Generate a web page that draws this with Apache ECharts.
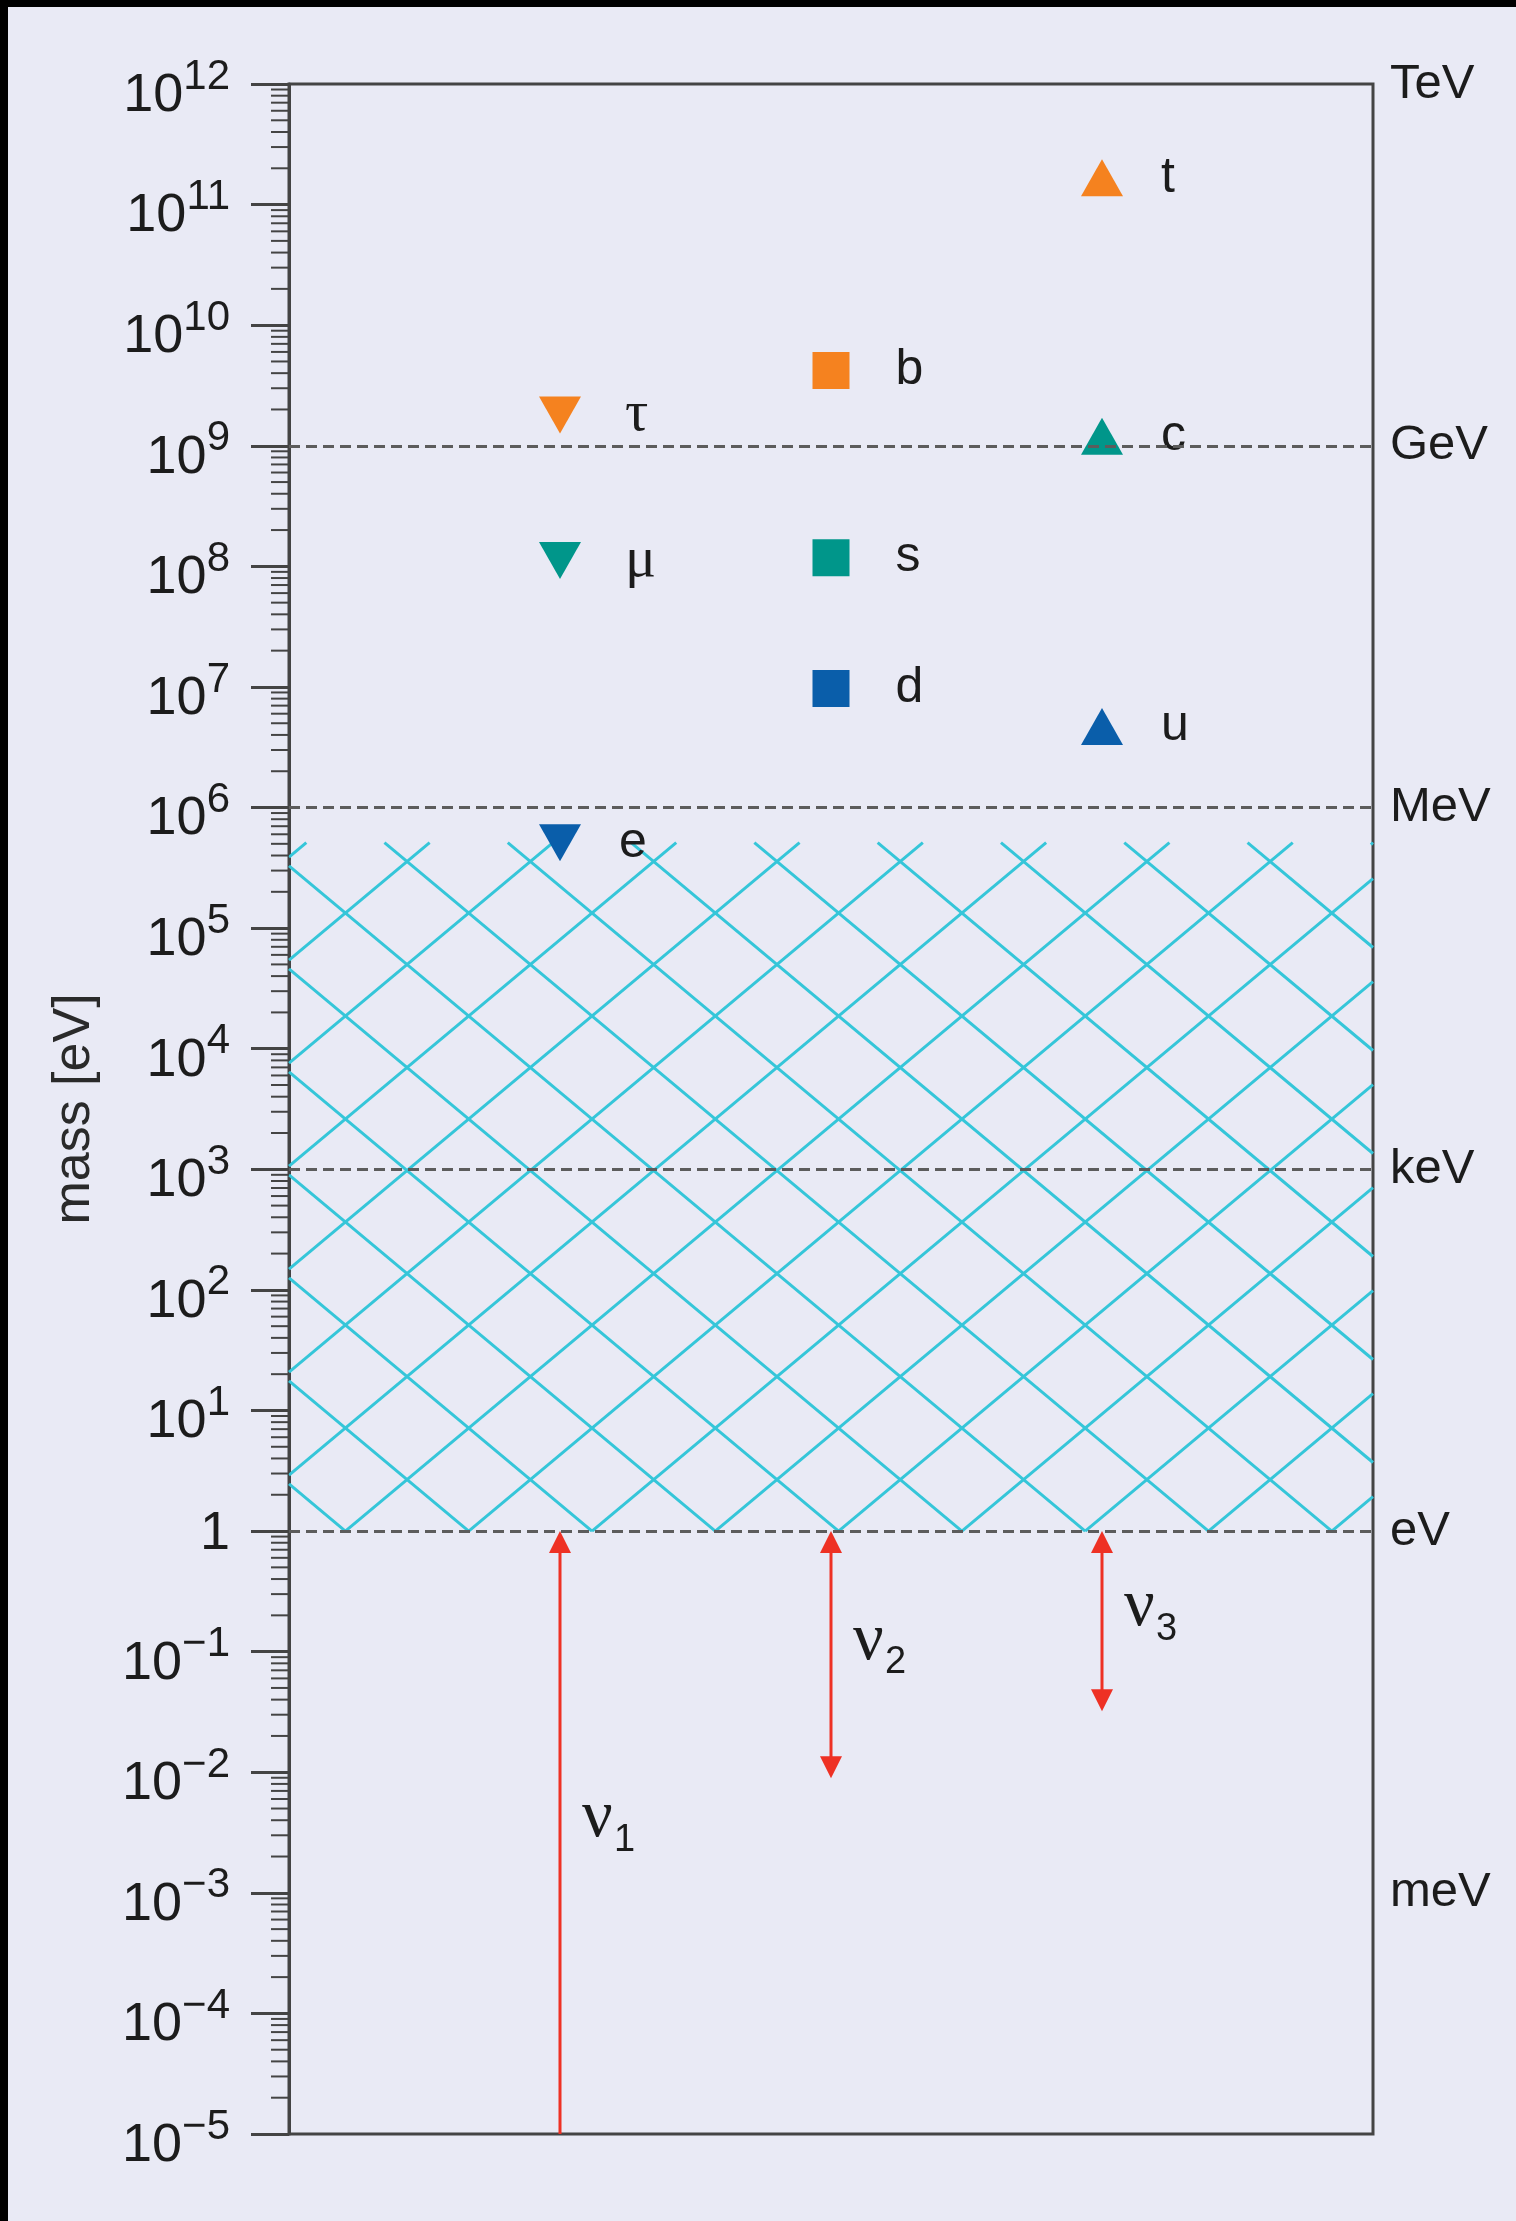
<!DOCTYPE html>
<html><head><meta charset="utf-8">
<script src="https://cdn.jsdelivr.net/npm/echarts@6/dist/echarts.min.js"></script>
<style>
html,body{margin:0;padding:0;background:#000;width:1516px;height:2221px;overflow:hidden}
#chart{position:absolute;left:8px;top:7px;width:1508px;height:2214px}
</style></head><body><div id="chart"></div>
<script>
// ---------------- data (masses in eV) ----------------
const leptonNames = ['e', 'μ', 'τ'];
const leptonMass = [5.1e5, 1.12e8, 1.8e9];
const downQuarkNames = ['d', 's', 'b'];
const downQuarkMass = [9.7e6, 1.18e8, 4.2e9];
const upQuarkNames = ['u', 'c', 't'];
const upQuarkMass = [4.7e6, 1.2e9, 1.67e11];
const neutrinoIndex = ['1', '2', '3'];
const neutrinoUpper = [1, 1, 1];
const neutrinoLower = [null, 8.9e-3, 3.2e-2];   // null: no lower bound
const scaleLines = [1e9, 1e6, 1e3, 1, 1e-3];
const unitNames = ['TeV', 'GeV', 'MeV', 'keV', 'eV', 'meV'];
const unitValues = [1e12, 1e9, 1e6, 1e3, 1, 1e-3];
const excludedRange = [1, 5.11e5];
const axisMin = 1e-5, axisMax = 1e12;

// ---------------- styles ----------------
const genColors = ['#0A5EAA', '#00968A', '#F5821F'];
const RED = '#EE3124', CYAN = '#35C6D9', FRAME = '#444', DASH = '#5c5c5c', TXT = '#1c1c1c';
const SANS = '"Liberation Sans", Arial, sans-serif';
const SERIF = '"Liberation Serif", "Times New Roman", serif';

const exp10 = v => Math.round(Math.log10(v));
const isGreek = s => /[\u0370-\u03FF]/.test(s);
const unitMap = {};
unitValues.forEach((v, i) => { unitMap[exp10(v)] = unitNames[i]; });

// minor log ticks (2..9 per decade)
const minorTicks = [];
for (let e = exp10(axisMin); e < exp10(axisMax); e++) {
  for (let m = 2; m <= 9; m++) minorTicks.push([0, m * Math.pow(10, e)]);
}

function scatterData(names, masses, col) {
  return names.map((n, i) => {
    const item = { name: n, value: [col, masses[i]], itemStyle: { color: genColors[i], opacity: 1 } };
    if (isGreek(n)) item.label = { fontFamily: SERIF, fontSize: 58, distance: 44 };
    return item;
  });
}

function clip(x1, y1, x2, y2, xl, yt, xr, yb) {
  let t0 = 0, t1 = 1; const dx = x2 - x1, dy = y2 - y1;
  const p = [-dx, dx, -dy, dy], q = [x1 - xl, xr - x1, y1 - yt, yb - y1];
  for (let i = 0; i < 4; i++) {
    if (p[i] === 0) { if (q[i] < 0) return null; }
    else {
      const r = q[i] / p[i];
      if (p[i] < 0) { if (r > t1) return null; if (r > t0) t0 = r; }
      else { if (r < t0) return null; if (r < t1) t1 = r; }
    }
  }
  return [x1 + t0 * dx, y1 + t0 * dy, x1 + t1 * dx, y1 + t1 * dy];
}

const markerLabel = (dist) => ({ show: true, position: 'right', distance: dist, formatter: '{b}',
  fontFamily: SANS, fontSize: 50, color: TXT });

const chart = echarts.init(document.getElementById('chart'), null, { renderer: 'canvas' });
chart.setOption({
  animation: false,
  backgroundColor: '#E9EAF5',
  grid: { left: 281, right: 143, top: 77, bottom: 87, show: true, borderColor: FRAME, borderWidth: 3, backgroundColor: 'transparent' },
  xAxis: { type: 'value', min: 0, max: 4, show: false },
  yAxis: [{
    type: 'log', logBase: 10, min: axisMin, max: axisMax, interval: 1,
    name: 'mass [eV]', nameLocation: 'middle', nameGap: 188, nameRotate: 90,
    nameTextStyle: { fontFamily: SANS, fontSize: 52, color: '#2a2a2a' },
    axisLine: { show: true, lineStyle: { color: FRAME, width: 3 } },
    axisTick: { show: true, length: 38, lineStyle: { color: FRAME, width: 3 } },
    minorTick: { show: false },
    splitLine: { show: false },
    axisLabel: {
      margin: 59, color: TXT, showMinLabel: true, showMaxLabel: true, interval: 0,
      padding: [24, 0, 0, 0],
      formatter: v => {
        const e = exp10(v);
        if (e === 0) return '{one|1}\n{gap| }';
        return '{b|10}{s|' + (e < 0 ? '\u2212' + (-e) : e) + '}';
      },
      rich: {
        b: { fontFamily: SANS, fontSize: 54, lineHeight: 54, color: TXT, verticalAlign: 'bottom' },
        s: { fontFamily: SANS, fontSize: 42, lineHeight: 42, color: TXT, verticalAlign: 'bottom', padding: [0, 0, 25, 0] },
        one: { fontFamily: SANS, fontSize: 54, lineHeight: 54, color: TXT },
        gap: { fontSize: 1, lineHeight: 18 }
      }
    }
  }, {
    type: 'log', logBase: 10, min: axisMin, max: axisMax, interval: 1, position: 'right',
    axisLine: { show: false }, axisTick: { show: false }, splitLine: { show: false },
    axisLabel: { margin: 17, fontFamily: SANS, fontSize: 49, color: TXT, interval: 0,
      showMinLabel: true, showMaxLabel: true,
      formatter: v => unitMap[exp10(v)] || '' }
  }],
  series: [
    { // hatched excluded region
      type: 'custom', z: 1, silent: true,
      data: [[0, excludedRange[0], excludedRange[1]]],
      encode: { x: 0, y: [1, 2] },
      renderItem: (params, api) => {
        const p0 = api.coord([0, api.value(2)]);
        const p1 = api.coord([4, api.value(1)]);
        const xl = p0[0], yt = p0[1], xr = p1[0], yb = p1[1];
        const P = 123.3, hx = P / 2, hy = 51.5, off = 56.4, n = 40;
        const kids = [];
        for (let k = -25; k <= 25; k++) {
          const xv = xl + off + k * P;
          [[xv + hx * n, yb - hy * n], [xv - hx * n, yb - hy * n]].forEach(end => {
            const c = clip(xv, yb, end[0], end[1], xl, yt, xr, yb);
            if (c) kids.push({ type: 'line', shape: { x1: c[0], y1: c[1], x2: c[2], y2: c[3] },
              style: { stroke: CYAN, lineWidth: 3 } });
          });
        }
        return { type: 'group', children: kids };
      }
    },
    { // dashed scale lines
      type: 'line', data: [], z: 2, silent: true,
      markLine: {
        silent: true, symbol: ['none', 'none'], label: { show: false },
        lineStyle: { color: DASH, width: 3, type: [11, 6] },
        data: scaleLines.map(v => ({ yAxis: v }))
      }
    },
    { type: 'scatter', name: 'leptons', z: 3, symbol: 'triangle', symbolRotate: 180, symbolSize: [42, 37],
      itemStyle: { opacity: 1 }, label: markerLabel(38), data: scatterData(leptonNames, leptonMass, 1) },
    { type: 'scatter', name: 'down quarks', z: 3, symbol: 'rect', symbolSize: [37, 37],
      itemStyle: { opacity: 1 }, label: markerLabel(46), data: scatterData(downQuarkNames, downQuarkMass, 2) },
    { type: 'scatter', name: 'up quarks', z: 3, symbol: 'triangle', symbolSize: [42, 37],
      itemStyle: { opacity: 1 }, label: markerLabel(38), data: scatterData(upQuarkNames, upQuarkMass, 3) },
    { // neutrino mass ranges
      type: 'custom', z: 4, silent: true, clip: false,
      data: neutrinoIndex.map((s, i) => [i + 1, neutrinoLower[i] == null ? axisMin : neutrinoLower[i], neutrinoUpper[i], neutrinoLower[i] == null ? 0 : 1]),
      encode: { x: 0, y: [1, 2] },
      renderItem: (params, api) => {
        const top = api.coord([api.value(0), api.value(2)]);
        const bot = api.coord([api.value(0), api.value(1)]);
        const both = api.value(3) === 1;
        const hw = 11, hh = 22, x = top[0];
        const kids = [
          { type: 'line', shape: { x1: x, y1: top[1] + hh * 0.8, x2: x, y2: both ? bot[1] - hh * 0.8 : bot[1] },
            style: { stroke: RED, lineWidth: 3 } },
          { type: 'polygon', shape: { points: [[x, top[1]], [x - hw, top[1] + hh], [x + hw, top[1] + hh]] },
            style: { fill: RED } }
        ];
        if (both) kids.push({ type: 'polygon', shape: { points: [[x, bot[1]], [x - hw, bot[1] - hh], [x + hw, bot[1] - hh]] },
            style: { fill: RED } });
        const midY = (top[1] + bot[1]) / 2;
        kids.push({ type: 'text', x: x + 22, y: midY - 14,
          style: { text: 'ν', fontFamily: SERIF, fontSize: 68, fill: TXT, align: 'left', verticalAlign: 'middle' } });
        kids.push({ type: 'text', x: x + 54, y: midY + 8,
          style: { text: neutrinoIndex[params.dataIndex], fontFamily: SANS, fontSize: 38, fill: TXT, align: 'left', verticalAlign: 'middle' } });
        return { type: 'group', children: kids };
      }
    },
    { // minor log ticks on the left axis
      type: 'custom', z: 5, silent: true, clip: false,
      data: minorTicks, encode: { x: 0, y: 1 },
      renderItem: (params, api) => {
        const p = api.coord([0, api.value(1)]);
        return { type: 'line', shape: { x1: p[0] - 18, y1: p[1], x2: p[0], y2: p[1] },
          style: { stroke: FRAME, lineWidth: 2 } };
      }
    }
  ]
});
</script></body></html>
